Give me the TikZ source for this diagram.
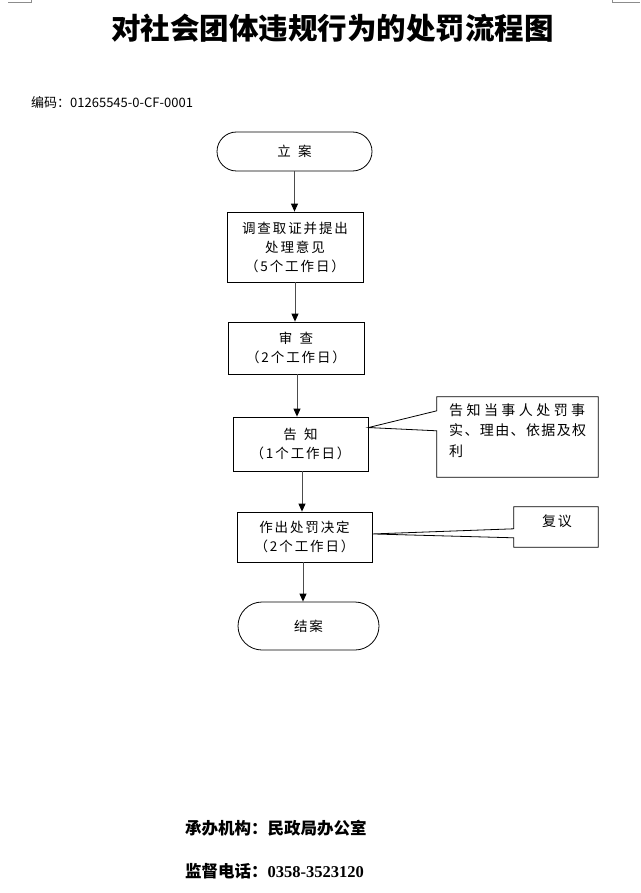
\documentclass[tikz,border=0pt]{standalone}
\usepackage{fontspec}
\setmainfont{Noto Sans CJK SC}
\newfontfamily\boxfont[LetterSpace=14]{Noto Sans CJK SC}
\newfontfamily\digitfont{Liberation Serif}
\usetikzlibrary{arrows.meta,shapes.misc,calc}
\begin{document}
\begin{tikzpicture}[x=1pt,y=-1pt,
  every node/.style={inner sep=0pt},
  boxtxt/.style={font=\boxfont\fontsize{13.5}{19}\selectfont, align=center},
  procbox/.style={draw=black, line width=0.8pt, boxtxt},
  termbox/.style={draw=black, line width=0.8pt, rounded rectangle, boxtxt},
  arr/.style={draw=black!70, line width=0.9pt, -{Triangle[length=8pt,width=7pt,fill=black,color=black]}},
  callout/.style={draw=black, line width=0.8pt},
  note/.style={font=\fontsize{14}{20}\selectfont, anchor=west}
]
\useasboundingbox (0,0) rectangle (640,893);
% corner marks
\draw[black!45, line width=0.6pt] (8,2) -- (31,2) -- (31,0);
\draw[black!45, line width=0.6pt] (612,0) -- (612,2) -- (640,2);

\node[font=\bfseries\fontsize{29.5}{30}\selectfont] (title) at (332.5,28) {对社会团体违规行为的处罚流程图};
\node[font=\fontsize{13}{14}\selectfont, anchor=west] (code) at (31,102) {编码：01265545-0-CF-0001};

\node[termbox, minimum width=155pt, minimum height=39pt] (n1) at (294.5,151.5) {立\hspace{0.55em}案};
\node[procbox, minimum width=136pt, minimum height=70pt] (n2) at (295,247) {调查取证并提出\\处理意见\\（5个工作日）};
\node[procbox, minimum width=136pt, minimum height=52pt] (n3) at (296,348) {审\hspace{0.55em}查\\（2个工作日）};
\node[procbox, minimum width=135pt, minimum height=54pt] (n4) at (300.5,444) {告\hspace{0.55em}知\\（1个工作日）};
\node[procbox, minimum width=135pt, minimum height=50pt] (n5) at (304.5,537) {作出处罚决定\\（2个工作日）};
\node[termbox, minimum width=141pt, minimum height=48pt] (n6) at (308.5,626) {结案};

\draw[arr] (n1.south) -- (n1.south |- n2.north);
\draw[arr] (n2.south) -- (n2.south |- n3.north);
\draw[arr] ($(n3.south)+(1,0)$) -- ($(n3.south |- n4.north)+(1,0)$);
\draw[arr] ($(n4.south)+(1.5,0)$) -- ($(n4.south |- n5.north)+(1.5,0)$);
\draw[arr] ($(n5.south)+(-1.5,0)$) -- ($(n5.south |- n6.north)+(-1.5,0)$);

% callout 1
\node[minimum width=161pt, minimum height=80pt] (c1) at (517.5,437) {};
\coordinate (t1) at ($(n4.north east)!0.2!(n4.south east)$);
\draw[callout] ($(c1.north west)+(0,14)$) -- (c1.north west) -- (c1.north east) -- (c1.south east) -- (c1.south west) -- ($(c1.north west)+(0,34)$) -- (t1) -- cycle;
\node[note] (c1a) at (449,410) {\makebox[136pt][s]{告\hfil 知\hfil 当\hfil 事\hfil 人\hfil 处\hfil 罚\hfil 事}};
\node[note] (c1b) at (449,430) {\makebox[137pt][s]{实\hfil 、\hfil 理\hfil 由\hfil 、\hfil 依\hfil 据\hfil 及\hfil 权}};
\node[note] (c1c) at (449,451) {利};

% callout 2
\node[minimum width=84pt, minimum height=40pt] (c2) at (556,527) {};
\coordinate (t2) at ($(n5.north east)!0.44!(n5.south east)$);
\draw[callout] ($(c2.north west)+(0,22)$) -- (c2.north west) -- (c2.north east) -- (c2.south east) -- (c2.south west) -- ($(c2.north west)+(0,31)$) -- (t2) -- cycle;
\node[font=\boxfont\fontsize{14}{16}\selectfont] (c2t) at (557,521) {复议};

\node[font=\bfseries\fontsize{16.5}{18}\selectfont, anchor=west] (org) at (185,828) {承办机构：民政局办公室};
\node[font=\bfseries\fontsize{16.5}{18}\selectfont, anchor=west] (tel) at (185,871) {监督电话：{\digitfont\bfseries 0358-3523120}};
\end{tikzpicture}
\end{document}
